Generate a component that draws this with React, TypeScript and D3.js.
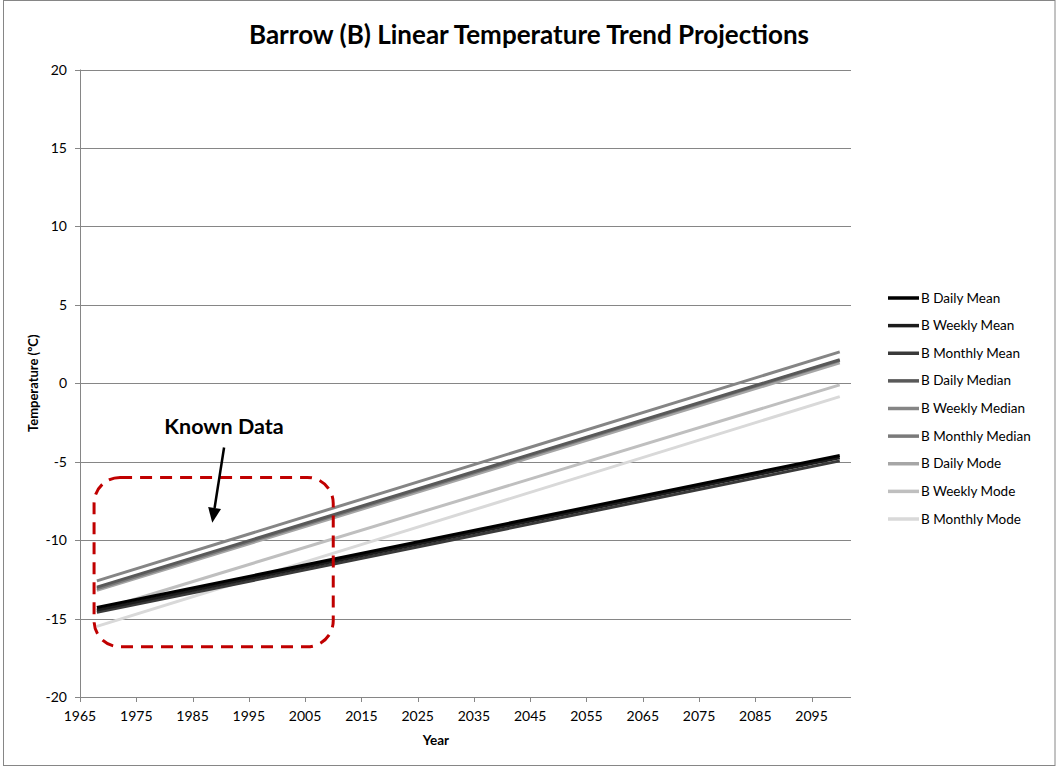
import React from "react";
import * as d3 from "d3";

// series: trend values at first and last year
const years = [1968, 2100];
const seriesNames = [
  "B Daily Mean",
  "B Weekly Mean",
  "B Monthly Mean",
  "B Daily Median",
  "B Weekly Median",
  "B Monthly Median",
  "B Daily Mode",
  "B Weekly Mode",
  "B Monthly Mode",
];
const startValues = [-14.3, -14.45, -14.6, -13.0, -12.6, -13.1, -13.2, -14.5, -15.5];
const endValues = [-4.6, -4.75, -4.95, 1.5, 2.0, 1.45, 1.3, -0.1, -0.85];
const seriesColors = [
  "#000000", "#1c1c1c", "#3a3a3a", "#595959", "#858585",
  "#7a7a7a", "#a6a6a6", "#bfbfbf", "#d9d9d9",
];
const xTicks = [1965, 1975, 1985, 1995, 2005, 2015, 2025, 2035, 2045, 2055, 2065, 2075, 2085, 2095];
const yTicks = [-20, -15, -10, -5, 0, 5, 10, 15, 20];
// "Known Data" box and arrow, in data units
const knownYears = [1967.5, 2010];
const knownTemps = [-6, -16.8];
const arrowYears = [1990.6, 1988.5];
const arrowTemps = [-4.1, -8.9];

const W = 1056;
const H = 767;
const margin = { top: 69.5, right: 205, bottom: 70, left: 80 };
const FONT = "Lato, 'Open Sans', sans-serif";

export default function App() {
  const x = d3.scaleLinear().domain([1965, 2102]).range([margin.left, W - margin.right]);
  const y = d3.scaleLinear().domain([-20, 20]).range([H - margin.bottom, margin.top]);

  const line = d3
    .line<[number, number]>()
    .x((d) => x(d[0]))
    .y((d) => y(d[1]));

  const series = seriesNames.map((name, i) => ({
    name,
    color: seriesColors[i],
    points: [
      [years[0], startValues[i]],
      [years[1], endValues[i]],
    ] as [number, number][],
  }));

  const gridColor = "#868686";
  const x0 = x.range()[0];
  const x1 = x.range()[1];
  const yBottom = y(-20);

  // known data box
  const bx0 = x(knownYears[0]);
  const bx1 = x(knownYears[1]);
  const by0 = y(knownTemps[0]);
  const by1 = y(knownTemps[1]);

  // arrow from label to box
  const arrowStart: [number, number] = [x(arrowYears[0]), y(arrowTemps[0])];
  const arrowEnd: [number, number] = [x(arrowYears[1]), y(arrowTemps[1])];
  const ang = Math.atan2(arrowEnd[1] - arrowStart[1], arrowEnd[0] - arrowStart[0]);
  const headLen = 15;
  const headW = 6.5;
  const hx = arrowEnd[0] - headLen * Math.cos(ang);
  const hy = arrowEnd[1] - headLen * Math.sin(ang);
  const head = [
    arrowEnd,
    [hx + headW * Math.sin(ang), hy - headW * Math.cos(ang)],
    [hx - headW * Math.sin(ang), hy + headW * Math.cos(ang)],
  ];

  const legendX = 888;
  const legendY = d3.scaleLinear().domain([0, 8]).range([298, 519]);

  return (
    <svg
      width={W}
      height={H}
      style={{ position: "absolute", left: 0, top: 0, background: "#fff" }}
      fontFamily={FONT}
    >
      <rect x={3.5} y={0.5} width={W - 4.5} height={H - 2} fill="none" stroke={gridColor} strokeWidth={1} />

      <text x={529} y={44} textAnchor="middle" fontSize={26} fontWeight="bold" fill="#000">
        Barrow (B) Linear Temperature Trend Projections
      </text>

      {/* gridlines */}
      {yTicks.map((t) => (
        <g key={t}>
          {t !== -20 && (
            <line x1={x0} x2={x1} y1={Math.round(y(t)) + 0.5} y2={Math.round(y(t)) + 0.5} stroke={gridColor} />
          )}
          <line x1={x0 - 5} x2={x0} y1={Math.round(y(t)) + 0.5} y2={Math.round(y(t)) + 0.5} stroke={gridColor} />
          <text x={x0 - 13} y={y(t) + 5} textAnchor="end" fontSize={14} fill="#000">
            {t}
          </text>
        </g>
      ))}

      {/* axes */}
      <line x1={x0 + 0.5} x2={x0 + 0.5} y1={margin.top} y2={yBottom} stroke={gridColor} />
      <line x1={x0} x2={x1} y1={Math.round(yBottom) + 0.5} y2={Math.round(yBottom) + 0.5} stroke={gridColor} />
      {xTicks.map((t) => (
        <g key={t}>
          <line
            x1={Math.round(x(t)) + 0.5}
            x2={Math.round(x(t)) + 0.5}
            y1={yBottom}
            y2={yBottom + 5}
            stroke={gridColor}
          />
          <text x={x(t)} y={yBottom + 24} textAnchor="middle" fontSize={14} fill="#000">
            {t}
          </text>
        </g>
      ))}

      <text x={436} y={745} textAnchor="middle" fontSize={13.5} fontWeight="bold" fill="#000">
        Year
      </text>
      <text
        transform={`translate(38, ${y(0)}) rotate(-90)`}
        textAnchor="middle"
        fontSize={13}
        fontWeight="bold"
        fill="#000"
      >
        Temperature (ºC)
      </text>

      {/* trend lines, lightest drawn first */}
      {[...series].reverse().map((s) => (
        <path key={s.name} d={line(s.points) || ""} fill="none" stroke={s.color} strokeWidth={3} />
      ))}

      {/* known data annotation */}
      <rect
        x={bx0}
        y={by0}
        width={bx1 - bx0}
        height={by1 - by0}
        rx={26}
        ry={26}
        fill="none"
        stroke="#c00000"
        strokeWidth={3}
        strokeDasharray="12 8"
      />
      <text x={224} y={434} textAnchor="middle" fontSize={21.5} fontWeight="bold" fill="#000">
        Known Data
      </text>
      <line x1={arrowStart[0]} y1={arrowStart[1]} x2={hx} y2={hy} stroke="#000" strokeWidth={2.5} />
      <polygon points={head.map((p) => p.join(",")).join(" ")} fill="#000" />

      {/* legend */}
      {series.map((s, i) => (
        <g key={s.name} transform={`translate(${legendX}, ${legendY(i)})`}>
          <line x1={0} x2={31} y1={0} y2={0} stroke={s.color} strokeWidth={3.5} />
          <text x={33} y={4.5} fontSize={13.5} fill="#000">
            {s.name}
          </text>
        </g>
      ))}
    </svg>
  );
}
